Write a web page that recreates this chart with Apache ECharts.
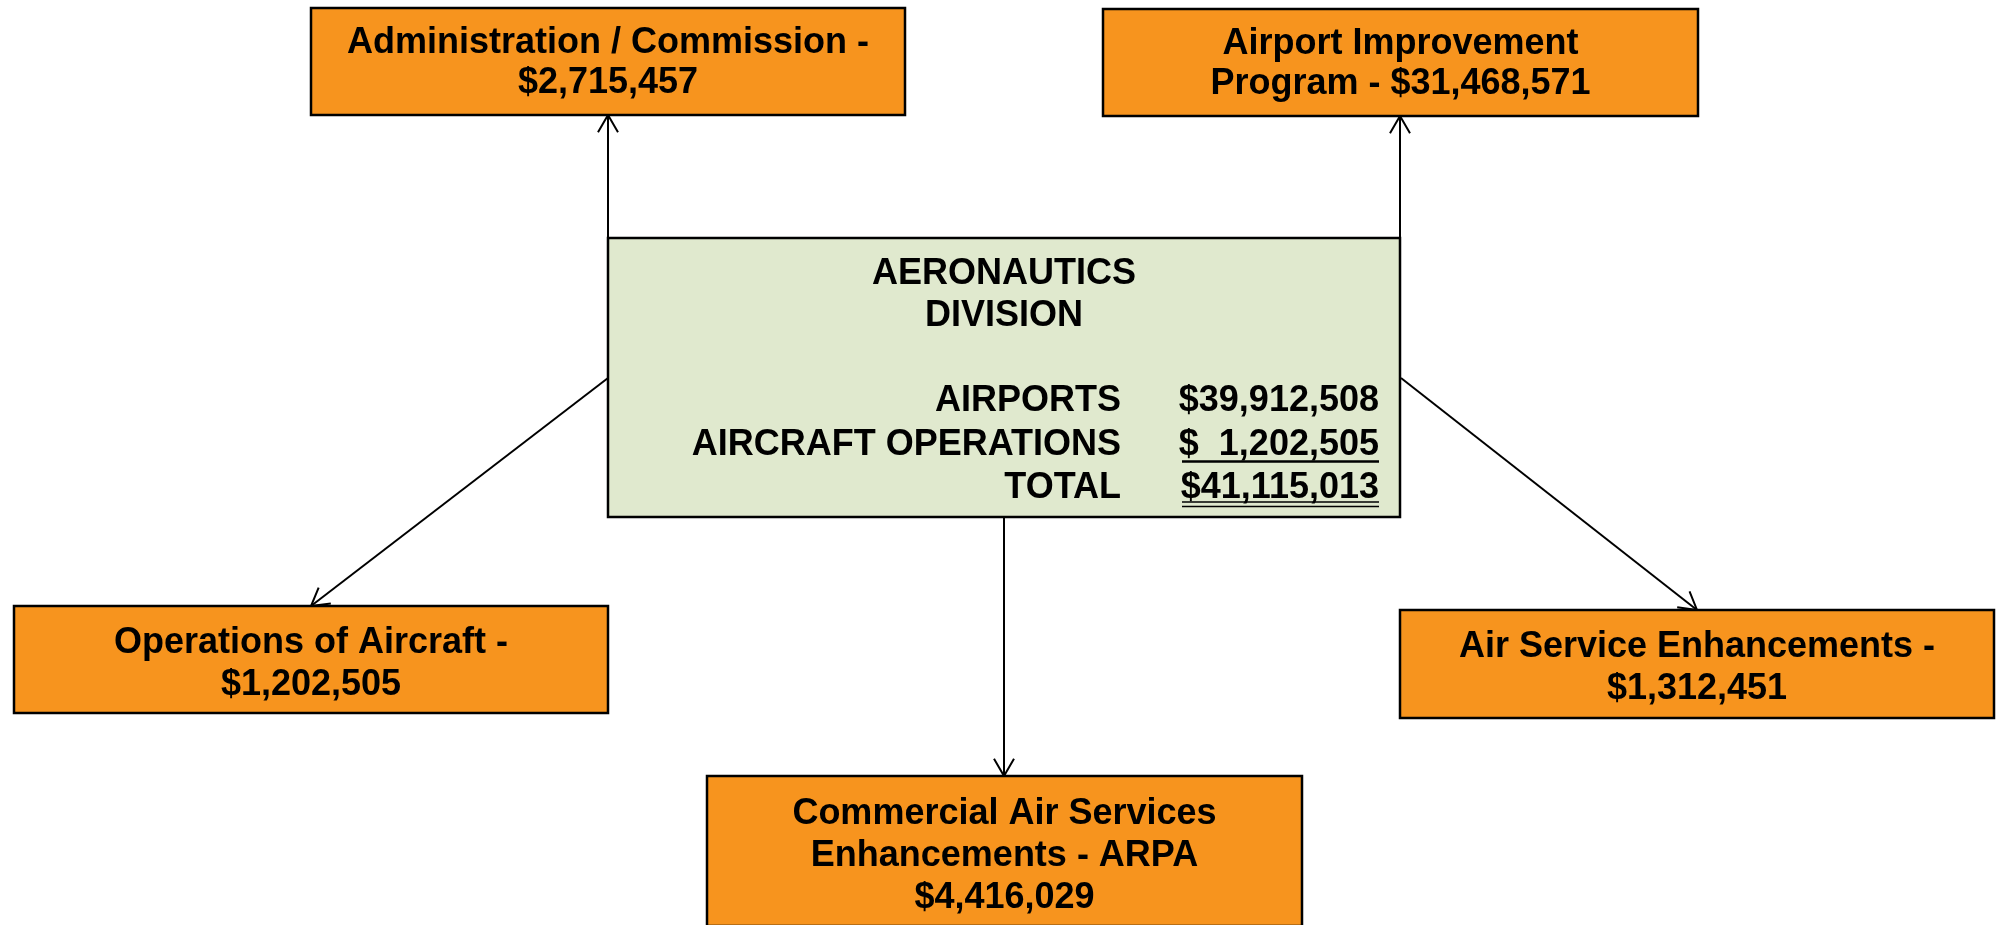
<!DOCTYPE html>
<html>
<head>
    <meta charset="utf-8">
    <title>Aeronautics Division</title>
    <style>
        html, body { margin: 0; padding: 0; background: #fff; }
        #main { width: 1997px; height: 925px; }
    </style>
</head>
<body>
    <div id="main"></div>
    <script src="https://cdn.jsdelivr.net/npm/echarts@6/dist/echarts.min.js"></script>
    <script>
        // ---- data ----
        var unitNames = [
            'Administration / Commission -',
            'Airport Improvement\nProgram -',
            'Operations of Aircraft -',
            'Air Service Enhancements -',
            'Commercial Air Services\nEnhancements - ARPA'
        ];
        var unitAmounts = [2715457, 31468571, 1202505, 1312451, 4416029];
        var amountOnNewLine = [true, false, true, true, true];

        var divisionTitle = 'AERONAUTICS\nDIVISION';
        var divisionRows = ['AIRPORTS', 'AIRCRAFT OPERATIONS', 'TOTAL'];
        var divisionAmounts = ['$39,912,508', '$  1,202,505', '$41,115,013'];
        var divisionUnderline = [0, 1, 2]; // none, single, double

        // ---- layout (diagram units = pixels of the 1997x925 page) ----
        var boxRects = [
            [311, 8, 594, 107],
            [1103, 9, 595, 107],
            [14, 606, 594, 107],
            [1400, 610, 594, 108],
            [707, 776, 595, 150]
        ];
        var boxTextShift = [2, 2, 5, 4, 5];
        var boxLineHeight = [40, 40, 42, 42, 42];
        var divisionRect = [608, 238, 792, 279];
        var arrowPaths = [
            [608, 238, 608, 115],
            [1400, 238, 1400, 116],
            [608, 378, 311, 606],
            [1401, 378, 1697, 610],
            [1004, 517, 1004, 776]
        ];

        var FONT = 'bold 36px "Liberation Sans", Arial, sans-serif';

        function money(v) {
            return '$' + v.toString().replace(/\B(?=(\d{3})+(?!\d))/g, ',');
        }

        var chart = echarts.init(document.getElementById('main'));

        var option = {
            animation: false,
            grid: { left: 0, right: 0, top: 0, bottom: 0 },
            xAxis: { type: 'value', min: 0, max: 1997, show: false },
            yAxis: { type: 'value', min: 0, max: 925, inverse: true, show: false },
            series: [
                {
                    // arrows
                    type: 'custom',
                    z: 1,
                    data: arrowPaths.map(function (a, i) { return [i]; }),
                    renderItem: function (params, api) {
                        var a = arrowPaths[api.value(0)];
                        var p0 = api.coord([a[0], a[1]]);
                        var p1 = api.coord([a[2], a[3]]);
                        var ang = Math.atan2(p1[1] - p0[1], p1[0] - p0[0]);
                        var len = 20, spread = Math.PI / 6;
                        var h1 = [p1[0] - len * Math.cos(ang - spread), p1[1] - len * Math.sin(ang - spread)];
                        var h2 = [p1[0] - len * Math.cos(ang + spread), p1[1] - len * Math.sin(ang + spread)];
                        return {
                            type: 'group',
                            children: [
                                { type: 'line', shape: { x1: p0[0], y1: p0[1], x2: p1[0], y2: p1[1] },
                                  style: { stroke: '#000', lineWidth: 2 } },
                                { type: 'polyline', shape: { points: [h1, p1, h2] },
                                  style: { stroke: '#000', lineWidth: 2, fill: null } }
                            ]
                        };
                    }
                },
                {
                    // orange unit boxes
                    type: 'custom',
                    z: 2,
                    data: unitNames.map(function (n, i) { return [i]; }),
                    renderItem: function (params, api) {
                        var i = api.value(0);
                        var r = boxRects[i];
                        var tl = api.coord([r[0], r[1]]);
                        var br = api.coord([r[0] + r[2], r[1] + r[3]]);
                        var label = unitNames[i] + (amountOnNewLine[i] ? '\n' : ' ') + money(unitAmounts[i]);
                        return {
                            type: 'group',
                            children: [
                                { type: 'rect',
                                  shape: { x: tl[0], y: tl[1], width: br[0] - tl[0], height: br[1] - tl[1] },
                                  style: { fill: '#F7941E', stroke: '#000', lineWidth: 2.5 } },
                                { type: 'text',
                                  style: { text: label, x: (tl[0] + br[0]) / 2,
                                           y: (tl[1] + br[1]) / 2 + boxTextShift[i],
                                           font: FONT, fill: '#000', align: 'center',
                                           verticalAlign: 'middle', lineHeight: boxLineHeight[i] } }
                            ]
                        };
                    }
                },
                {
                    // central division panel
                    type: 'custom',
                    z: 2,
                    data: [[0]],
                    renderItem: function (params, api) {
                        var r = divisionRect;
                        var tl = api.coord([r[0], r[1]]);
                        var br = api.coord([r[0] + r[2], r[1] + r[3]]);
                        var titlePt = api.coord([1004, 295]);
                        var labelX = api.coord([1121, 0])[0];
                        var amtX = api.coord([1379, 0])[0];
                        var amtLeft = api.coord([1182, 0])[0];
                        var children = [
                            { type: 'rect',
                              shape: { x: tl[0], y: tl[1], width: br[0] - tl[0], height: br[1] - tl[1] },
                              style: { fill: '#E0E9CE', stroke: '#000', lineWidth: 2.5 } },
                            { type: 'text',
                              style: { text: divisionTitle, x: titlePt[0], y: titlePt[1], font: FONT,
                                       fill: '#000', align: 'center', verticalAlign: 'middle', lineHeight: 42 } }
                        ];
                        divisionRows.forEach(function (row, k) {
                            var mid = api.coord([0, 401.5 + k * 43.5])[1];
                            var base = api.coord([0, 412 + k * 43.5])[1];
                            children.push({ type: 'text',
                                style: { text: row, x: labelX, y: mid, font: FONT, fill: '#000',
                                         align: 'right', verticalAlign: 'middle' } });
                            children.push({ type: 'text',
                                style: { text: divisionAmounts[k], x: amtX, y: mid, font: FONT, fill: '#000',
                                         align: 'right', verticalAlign: 'middle' } });
                            if (divisionUnderline[k] === 1) {
                                children.push({ type: 'line',
                                    shape: { x1: amtLeft, y1: base + 6, x2: amtX, y2: base + 6 },
                                    style: { stroke: '#000', lineWidth: 2.5 } });
                            } else if (divisionUnderline[k] === 2) {
                                children.push({ type: 'line',
                                    shape: { x1: amtLeft, y1: base + 3, x2: amtX, y2: base + 3 },
                                    style: { stroke: '#000', lineWidth: 1.5 } });
                                children.push({ type: 'line',
                                    shape: { x1: amtLeft, y1: base + 7.5, x2: amtX, y2: base + 7.5 },
                                    style: { stroke: '#000', lineWidth: 1.5 } });
                            }
                        });
                        return { type: 'group', children: children };
                    }
                }
            ]
        };

        chart.setOption(option);
        window.addEventListener('resize', function () {
            chart.resize();
        });
    </script>
</body>
</html>
